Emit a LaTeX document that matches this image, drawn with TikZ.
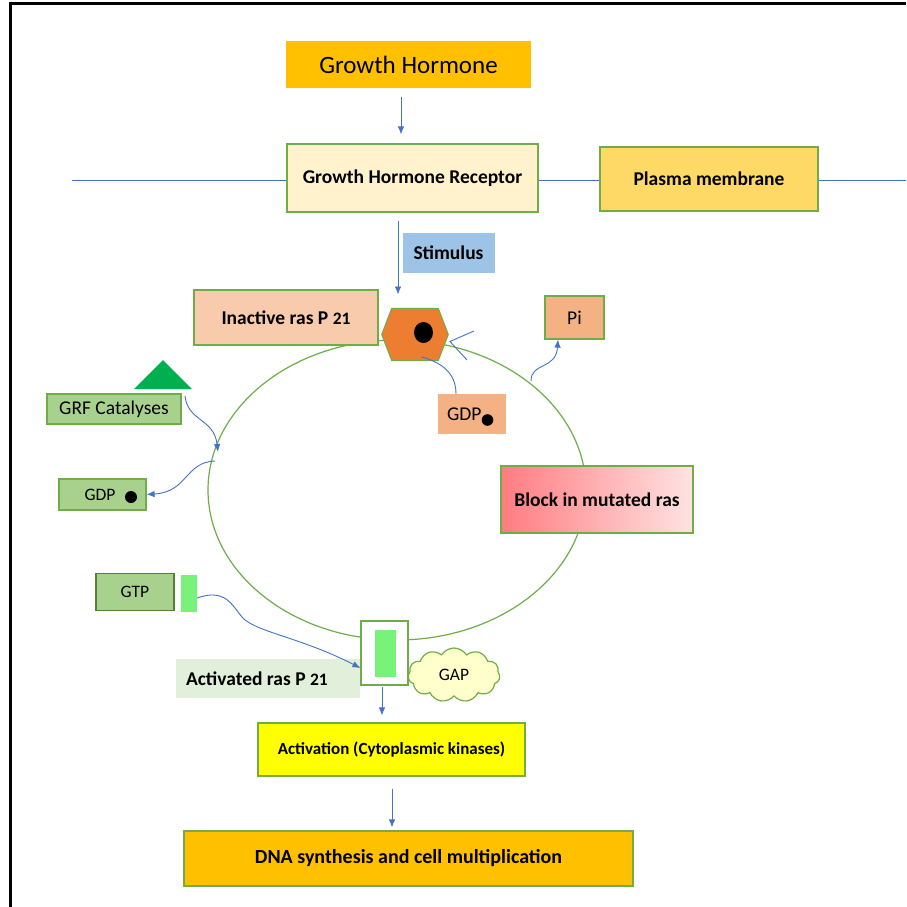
\documentclass[tikz,border=0pt]{standalone}
\usepackage{fontspec}
\setmainfont{Carlito}
\usetikzlibrary{arrows.meta,shapes.symbols,shapes.geometric}
\definecolor{ablue}{HTML}{4472C4}
\definecolor{lgreen}{HTML}{70AD47}
\definecolor{ghorange}{HTML}{FFC000}
\definecolor{cream}{HTML}{FFF2CC}
\definecolor{gold}{HTML}{FFD966}
\definecolor{stimblue}{HTML}{9DC3E6}
\definecolor{salmon}{HTML}{F8CBAD}
\definecolor{hexorange}{HTML}{ED7D31}
\definecolor{lorange}{HTML}{F4B183}
\definecolor{lightgreen}{HTML}{A9D18E}
\definecolor{brightgreen}{HTML}{79F27A}
\definecolor{trigreen}{HTML}{00B050}
\definecolor{actlabel}{HTML}{E2EFDA}
\definecolor{gapyellow}{HTML}{FFFFCC}
\definecolor{ayellow}{HTML}{FFFF00}
\definecolor{pinkL}{HTML}{FF7C80}
\definecolor{pinkR}{HTML}{FFE3E3}
\definecolor{dgreen}{HTML}{548235}
\begin{document}
\begin{tikzpicture}[x=1pt,y=-1pt,
  box/.style={draw=lgreen, line width=1.2pt, inner sep=0pt, anchor=center},
  plain/.style={inner sep=0pt, anchor=center},
  arr/.style={draw=ablue, line width=0.9pt, -{Latex[length=8pt,width=6.5pt]}},
  bline/.style={draw=ablue, line width=0.9pt},
  rTwentyFive/.style={font=\fontsize{25}{30}\selectfont},
  bNineteen/.style={font=\fontsize{19.5}{23}\selectfont\bfseries},
  bSeventeen/.style={font=\fontsize{17}{21}\selectfont\bfseries},
  bTwenty/.style={font=\fontsize{20}{24}\selectfont\bfseries},
  rNineteen/.style={font=\fontsize{19.5}{23}\selectfont},
  rSeventeen/.style={font=\fontsize{17.5}{21}\selectfont}]
\useasboundingbox (0,0) rectangle (906,907);
\fill[white] (0,0) rectangle (906,907);
% frame
\draw[line width=3pt] (10.5,907) -- (10.5,4) -- (906,4);

% big cycle
\draw[lgreen, line width=1.2pt] (397,490) ellipse [x radius=189pt, y radius=150pt];

% top boxes
\node[plain, fill=ghorange, minimum width=245, minimum height=47, rTwentyFive] (gh) at (408.5,64.5) {Growth Hormone};
\node[box, fill=cream, minimum width=251, minimum height=68, bNineteen] (rec) at (412.5,178) {Growth Hormone Receptor};
\node[box, fill=gold, minimum width=218, minimum height=64, bNineteen] (pm) at (709,179) {Plasma membrane};
\coordinate (memL) at (72,180);
\coordinate (memR) at (906,180);
\draw[bline] (memL) -- (memL -| rec.west);
\draw[bline] (rec.east |- memL) -- (pm.west |- memL);
\draw[bline] (pm.east |- memL) -- (memR);
\draw[arr] ([shift={(-7.5,9)}]gh.south) -- ([shift={(-11.5,-9)}]rec.north);

% stimulus
\node[plain, fill=stimblue, minimum width=92, minimum height=40, bNineteen] (stim) at (448.5,252.5) {Stimulus};
\coordinate (hexc) at (415,334.5);
\draw[arr] ([shift={(-14.5,8)}]rec.south) -- ([shift={(-17,-40)}]hexc);

% inactive ras
\node[box, fill=salmon, minimum width=184, minimum height=55, bNineteen] (inact) at (286,317.5) {Inactive ras P {\fontsize{17.5}{21}\selectfont 21}};
\filldraw[fill=hexorange, draw=lgreen, line width=1pt]
  (381.7,334.5) -- (391.7,308.3) -- (438.3,308.3) -- (448.3,334.5) -- (438.3,360.5) -- (391.7,360.5) -- cycle;
\fill (423.5,332.5) ellipse [x radius=9.5pt, y radius=10.5pt];
\draw[bline] (474,331) -- (450,341.5) -- (467,360);

% GDP orange
\node[plain, fill=lorange, minimum width=68, minimum height=40] (gdpo) at (472,414) {};
\node[plain, anchor=west, rNineteen] (gdpotext) at ([xshift=9]gdpo.west) {GDP};
\fill ([shift={(15.5,6)}]gdpo.center) circle (5.8pt);
\coordinate (hexb) at (421.7,357);
\draw[bline] (hexb) .. controls (440,362) and (456,372) .. (gdpo.north -| 456,0);

% Pi
\node[box, fill=lorange, minimum width=59, minimum height=43, rNineteen] (pi) at (574.5,317.5) {Pi};
\coordinate (pistart) at (531,381);
\draw[arr] (pistart) .. controls (531,362) and (556,370) .. ([xshift=-16.5]pi.south);

% GRF
\fill[trigreen] (134,389) -- (163,360) -- (192,389) -- cycle;
\node[box, fill=lightgreen, minimum width=134, minimum height=30, rNineteen] (grf) at (114,409) {GRF Catalyses};
\coordinate (grfs) at (185,396);
\coordinate (grfe) at (218,452);
\draw[arr] (grfs) .. controls (188,422) and (214,418) .. (grfe);

% GDP green
\node[box, fill=lightgreen, minimum width=87, minimum height=31] (gdpg) at (102.5,494.5) {};
\node[plain, anchor=west, rSeventeen] (gdpgtext) at ([xshift=26]gdpg.west) {GDP};
\fill ([shift={(28.5,2.5)}]gdpg.center) circle (6pt);
\coordinate (gdps) at (215,461);
\draw[arr] (gdps) .. controls (185,462) and (188,492) .. (gdpg.east);

% block
\node[box, left color=pinkL, right color=pinkR, minimum width=192, minimum height=67, bNineteen] (block) at (597,499.5) {Block in mutated ras};

% GTP
\node[box, draw=dgreen, fill=lightgreen, minimum width=78, minimum height=37, rSeventeen] (gtp) at (135,592) {GTP};
\node[plain, fill=brightgreen, minimum width=16, minimum height=37] (gtpbar) at (189,593) {};

% activated ras
\node[box, fill=white, minimum width=47, minimum height=64] (act) at (384.5,653) {};
\node[plain, fill=brightgreen, minimum width=21, minimum height=47] (actbar) at (385.5,653.5) {};
\node[plain, fill=actlabel, minimum width=184, minimum height=39] (actlab) at (268,678.5) {};
\node[plain, anchor=west, bNineteen] (acttext) at ([xshift=10]actlab.west) {Activated ras P {\fontsize{17.5}{21}\selectfont 21}};
\draw[arr] ([yshift=-5]gtpbar.east) .. controls (225,588) and (232,605) .. (242,617)
  .. controls (255,632) and (300,637) .. ([yshift=-15]act.west);

% GAP
\node[cloud, cloud puffs=11, cloud puff arc=115, aspect=1.7, draw=lgreen, line width=1.2pt, fill=gapyellow,
  minimum width=92, minimum height=54, inner sep=0pt, rSeventeen] (gap) at (454,675) {GAP};

% activation
\node[box, fill=ayellow, minimum width=267, minimum height=53, bSeventeen] (actv) at (391.5,749.5) {Activation (Cytoplasmic kinases)};
\draw[arr] ([shift={(-2.5,1)}]act.south) -- ([shift={(-9.5,-7)}]actv.north);

% DNA
\node[box, fill=ghorange, minimum width=449, minimum height=55, bTwenty] (dna) at (408.5,858.5) {DNA synthesis and cell multiplication};
\draw[arr] ([shift={(0.5,12)}]actv.south) -- ([shift={(-16.5,-3)}]dna.north);
\end{tikzpicture}
\end{document}
